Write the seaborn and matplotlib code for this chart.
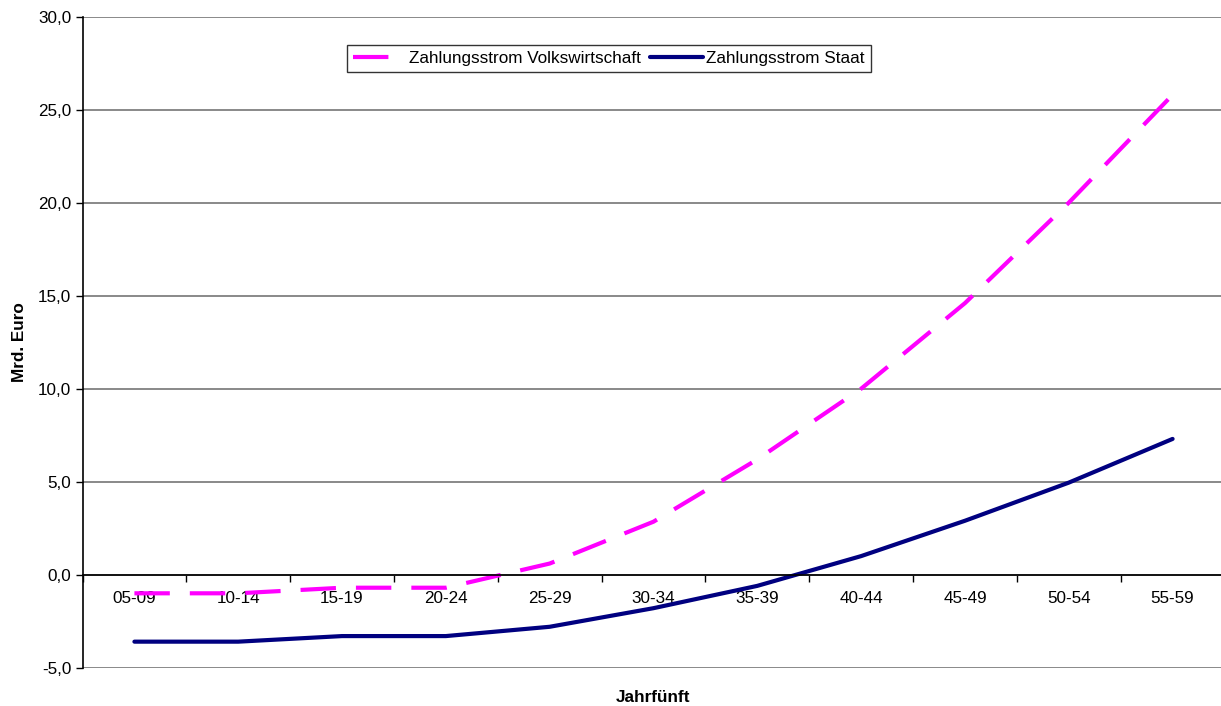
import numpy as np
import pandas as pd
import matplotlib
matplotlib.use("Agg")
import matplotlib.pyplot as plt
from matplotlib.ticker import FixedLocator, NullFormatter, FuncFormatter
import seaborn as sns

# Five-year periods and payment flows (billion euro)
perioden = ["05-09", "10-14", "15-19", "20-24", "25-29", "30-34",
            "35-39", "40-44", "45-49", "50-54", "55-59"]
volkswirtschaft = [-1.0, -1.0, -0.7, -0.7, 0.6, 2.85, 6.2, 10.0, 14.6, 20.0, 25.8]
staat = [-3.6, -3.6, -3.3, -3.3, -2.8, -1.8, -0.6, 1.0, 2.9, 4.95, 7.3]

sns.set_theme(style="white")
plt.rcParams["font.family"] = ["Liberation Sans", "DejaVu Sans"]
plt.rcParams["text.color"] = "black"
plt.rcParams["xtick.color"] = "black"
plt.rcParams["ytick.color"] = "black"

FS = 12.3

df = pd.DataFrame({
    "idx": np.arange(len(perioden)),
    "Zahlungsstrom Volkswirtschaft": volkswirtschaft,
    "Zahlungsstrom Staat": staat,
})

W, H = 1221, 706
fig = plt.figure(figsize=(W / 100, H / 100), dpi=100)
ax_l, ax_r, ax_t, ax_b = 82.5, 1224.5, 16.7, 667.7
ax = fig.add_axes([ax_l / W, 1 - ax_b / H, (ax_r - ax_l) / W, (ax_b - ax_t) / H])

sns.lineplot(data=df, x="idx", y="Zahlungsstrom Volkswirtschaft", ax=ax,
             color="#FF00FF", linewidth=3, label="Zahlungsstrom Volkswirtschaft",
             dashes=False)
ax.lines[-1].set_dashes((8.5, 4.8))
ax.lines[-1].set_dash_capstyle("butt")
sns.lineplot(data=df, x="idx", y="Zahlungsstrom Staat", ax=ax,
             color="#000080", linewidth=3, label="Zahlungsstrom Staat")
ax.lines[-1].set_solid_capstyle("round")

ax.set_xlim(-0.5, len(perioden) - 0.5)
ax.set_ylim(-5, 30)
ax.set_yticks(np.arange(-5, 30.1, 5))
ax.yaxis.set_major_formatter(FuncFormatter(lambda v, p: f"{v:.1f}".replace(".", ",")))
ax.grid(axis="y", color="#808080", linewidth=1.3)
ax.set_axisbelow(True)

# category boundaries get tick marks, centres get the labels
ax.xaxis.set_major_locator(FixedLocator(np.arange(-0.5, len(perioden), 1.0)))
ax.xaxis.set_major_formatter(NullFormatter())
ax.xaxis.set_minor_locator(FixedLocator(np.arange(len(perioden))))
ax.set_xticklabels(perioden, minor=True)
ax.tick_params(axis="x", which="major", direction="out", length=5, width=1,
               color="#000000", bottom=True)
ax.tick_params(axis="x", which="minor", length=0, pad=12, labelsize=FS)
ax.tick_params(axis="y", direction="out", length=5, width=1, color="#000000",
               left=True, labelsize=FS, pad=3)

for s in ["top", "right"]:
    ax.spines[s].set_visible(False)
ax.spines["bottom"].set_position(("data", 0))
ax.spines["bottom"].set_color("#000000")
ax.spines["bottom"].set_linewidth(1.2)
ax.spines["left"].set_color("#000000")
ax.spines["left"].set_linewidth(1.2)

ax.set_xlabel("")
ax.set_ylabel("")
fig.text(19.5 / W, 1 - 342 / H, "Mrd. Euro", rotation=90, ha="center", va="center",
         fontsize=FS, fontweight="bold")
fig.text(653 / W, 1 - 697 / H, "Jahrfünft", ha="center", va="center",
         fontsize=FS, fontweight="bold")

leg = ax.legend(loc="upper left", bbox_to_anchor=((347 - ax_l) / (ax_r - ax_l),
                                                 1 - (45 - ax_t) / (ax_b - ax_t)),
                ncol=2, frameon=True, fancybox=False, fontsize=FS,
                handlelength=3.1, handletextpad=0.2, columnspacing=0.5,
                borderpad=0.35, borderaxespad=0)
leg.get_frame().set_edgecolor("#000000")
leg.get_frame().set_linewidth(1.0)

fig.savefig("out.png", dpi=100)
